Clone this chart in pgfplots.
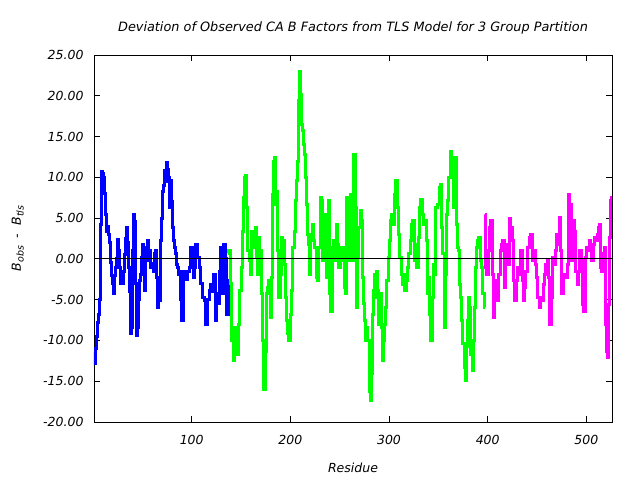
\documentclass[border=0pt]{standalone}
\usepackage{pgfplots}
\pgfplotsset{compat=1.18}
\usepackage{fontspec}
\setmainfont{DejaVu Sans}
\newcommand\lf{\fontsize{12.5bp}{14bp}\selectfont\itshape}
\newcommand\tf{\fontsize{12.85bp}{14bp}\selectfont\itshape}
\begin{document}
\begin{tikzpicture}
\useasboundingbox (-94bp,-58bp) rectangle (546bp,422bp);
\begin{axis}[
  scale only axis, width=518bp, height=367bp,
  at={(0,0)}, anchor=south west,
  xmin=1, xmax=526, ymin=-20, ymax=25,
  xtick={100,200,300,400,500}, ytick={-20,-15,...,25},
  tick align=inside, major tick length=6bp,
  /pgf/number format/assume math mode=true,
  yticklabel style={xshift=-7bp, /pgf/number format/.cd, fixed, fixed zerofill, precision=2},
  xticklabel style={yshift=-10bp, /pgf/number format/.cd, fixed, precision=0},
  tick label style={font=\lf},
  axis line style={line width=0.9pt},
  every tick/.style={black, line width=0.8pt},
  title={Deviation of Observed CA B Factors from TLS Model for 3 Group Partition},
  title style={font=\tf, at={(axis description cs:0.5,1)}, anchor=center, yshift=21bp},
  xlabel={Residue},
  xlabel style={font=\lf, at={(axis description cs:0.5,0)}, anchor=center, yshift=-46bp},
  ylabel={B\raisebox{-0.4ex}{\fontsize{9.5bp}{10bp}\selectfont obs}\ \ -\ \ B\raisebox{-0.4ex}{\fontsize{9.5bp}{10bp}\selectfont tls}},
  ylabel style={font=\lf, at={(axis description cs:-0.147,0.5)}, anchor=center},
  clip=true,
  const plot mark mid,
]
\addplot[color={rgb,255:red,0;green,0;blue,255}, line width=3bp, line join=miter] coordinates {
(1,-11.5) (2,-12.8) (3,-11) (4,-9.5) (5,-7.8) (6,-6.8) (7,-5) (8,4.2) (9,10.7) (10,10.5)
(11,10) (12,8) (13,5.5) (14,3.4) (15,4) (16,3) (17,2) (18,-0.5) (19,-2) (20,-3)
(21,-4.3) (22,-2) (23,-1) (24,0) (25,2.4) (26,1) (27,-1) (28,-3) (29,-1.5) (30,-3)
(31,-1.5) (32,0.5) (33,2.5) (34,3.8) (35,2) (36,-1) (37,-4) (38,-7) (39,-9.2) (40,-8.4)
(41,1) (42,5.5) (43,4.6) (44,-3) (45,-9.4) (46,-8.4) (47,-5) (48,-2.7) (49,-1.9) (50,0.2)
(51,1.8) (52,-1) (53,-3.9) (54,0.2) (55,1.4) (56,2.2) (57,-0.2) (58,1) (59,-1) (60,-0.6)
(61,-1) (62,-1.5) (63,0.6) (64,1) (65,-2.3) (66,-6) (67,-4.7) (68,-5.1) (69,2.2) (70,5)
(71,8.3) (72,9) (73,10.8) (74,9.5) (75,11.8) (76,11) (77,10) (78,6.3) (79,9.6) (80,7)
(81,3.8) (82,2.2) (83,1.4) (84,0.6) (85,-0.7) (86,-1) (87,-1.9) (88,-1.5) (89,-5) (91,-7.6)
(93,-1.5) (95,-2.5) (97,-1.5) (98,-1) (100,1.4) (101,1.4) (102,-2.3) (103,-1) (105,1.8) (107,0.2)
(108,-1) (110,-3) (112,-4.7) (113,-5.1) (115,-8) (117,-5) (119,-3.9) (120,-3.1) (122,-4) (123,-1.9)
(125,-7.6) (126,-4.3) (128,-5.5) (129,-1.5) (130,1.4) (131,-1.9) (132,-4.3) (133,1.8) (135,0) (136,-6.8) (138,-2.7)
};
\addplot[color={rgb,255:red,0;green,255;blue,0}, line width=3bp, line join=miter] coordinates {
(137,0.6) (138.6,1) (140.3,-3) (141.3,-10) (142.7,-12.5) (144,-8.4) (145.4,-9.2) (146.7,-11.7) (148,-8) (149.4,-3.9)
(150.8,-1) (151.5,3.4) (152.8,7.5) (154.2,10) (155.5,10.2) (156.5,6.3) (157.5,1) (158.9,-0.2) (159.9,-1.9) (161.3,3.4)
(162.6,2.2) (163.6,1.4) (165,3.8) (166.3,0.2) (167.7,-1.9) (168.7,2.6) (169.7,1) (171.1,-4.3) (172.4,-10) (173.8,-16)
(175.1,-11.3) (176.1,-4.3) (177.5,-3.5) (178.8,-2.7) (180.2,-7.2) (181.5,-2.3) (182.6,7.9) (183.6,12) (184.9,12.4) (185.9,6.7)
(186.9,8.3) (187.6,1) (189,-4.7) (190.3,-1.9) (191.7,2.6) (193,2.2) (194.4,-0.7) (195.4,-4.7) (196.4,-7.6) (197.8,-9.2)
(199.1,-10) (200.5,-6.8) (201.8,-3.9) (203.2,1.4) (204.5,3.4) (205.5,7.1) (206.6,9.6) (207.6,12) (208.6,19.4) (209.6,23)
(210.6,20.2) (211.6,16.5) (212.6,15.7) (214,14) (215,12.8) (216,10) (217,6.7) (218,3) (219.1,1.8) (220.1,-1.9)
(221.4,3) (222.8,4.2) (224.1,2.2) (225.5,1.4) (226.8,-2.3) (228.2,-2.7) (229.5,1.4) (230.9,7.5) (232.2,7.1) (233.6,-0.2)
(235,5.5) (236.3,5) (237.7,-2.3) (239,7.1) (240.4,-4.3) (241.7,-6.4) (243.1,1.4) (244.4,2.2) (245.8,-0.2) (247.1,4.2)
(248.5,1.8) (249.8,-1) (251.2,1.4) (252.5,-0.2) (253.9,1.4) (255.2,-3.5) (256.6,-4.3) (257.6,7.5) (259,7.1) (260.3,-0.2)
(261.7,7.9) (263,-0.2) (264,8.3) (265,12.8) (266.4,6.3) (267.4,-6) (268.8,0.2) (270.1,3.8) (271.5,5.9) (272.8,4.7)
(273.8,-2.3) (274.8,-5.5) (275.9,-7.6) (276.9,-10) (277.9,-8.4) (279.2,-10) (280.6,-16.2) (281.6,-17.4) (282.6,-14.1) (283.6,-6.8)
(284.6,-3.9) (285.7,-1.9) (286.7,-4.7) (287.7,-1.5) (288.7,-3.9) (290,-8) (291.4,-4.3) (292.4,-8.4) (293.4,-12.5) (294.8,-10)
(295.8,-8) (297.1,-6) (298.5,-2.7) (299.9,0.2) (300.9,2.2) (302.2,4.7) (303.6,5.5) (304.9,4.2) (306.3,7.9) (307.6,9.6)
(309,6.3) (310.3,3) (311.7,0.2) (312.7,-1.9) (314,-3.1) (315.4,-1.9) (316.8,-3.9) (318.1,-2.7) (319.5,-1) (320.8,0.6)
(322.2,2.2) (323.5,4.2) (324.9,4.7) (326.2,-0.2) (327.6,1.8) (328.9,-1) (330.3,2.6) (331.6,6.3) (333,7.3) (334.3,5.5)
(335.7,4.2) (337,4.7) (338.4,2.2) (339.4,-4.3) (340.8,-2.3) (341.8,-6.8) (343.1,-10) (344.5,-4.7) (345.5,-0.7) (346.8,-1.9)
(348.2,6.3) (349.9,6.7) (351.6,8.7) (352.6,9.1) (354,3.8) (355.3,0.6) (356.6,-8.4) (358,-1.9) (359,5.5) (360,7.1)
(361.4,10) (362.7,13.2) (364.1,10.8) (365.1,12.4) (366.1,6.3) (367.5,12.4) (368.5,4.2) (369.5,1.4) (370.8,1) (371.9,-3.1)
(372.9,-4.7) (374.2,-7.6) (375.6,-10.4) (376.9,-13.3) (377.9,-14.9) (379,-10.8) (380.3,-7.6) (381.3,-4.7) (382.3,-6) (383.7,-11.7)
(385,-13.7) (386,-10) (387.1,-6) (388.1,-1) (389.1,1.4) (390.5,2.2) (391.8,2.6) (393.2,-0.2) (394.5,-1) (395.9,-4.3) (397.2,-6)
};
\addplot[color={rgb,255:red,255;green,0;blue,255}, line width=3bp, line join=miter] coordinates {
(397.2,5.5) (398.6,-1) (399.9,-1.9) (401.3,1) (402.6,3.8) (404,4.7) (405.3,-1.9) (406.7,-7.2) (408,-5.1) (409.4,-2.7)
(410.7,-5.1) (412.1,-1.9) (413.4,1) (414.8,1.8) (416.1,2.2) (417.5,-3.5) (418.8,1) (420.2,1.8) (421.5,-0.7) (422.9,4.9)
(424.3,3.8) (425.6,2.2) (427,-2.7) (428.3,-5.1) (429.7,-2.7) (431,-1) (432.4,-1.9) (434.4,1) (435.4,-2.7) (436.8,-5.1)
(438.1,-3.5) (439.5,-1.5) (441.2,1.4) (442.8,2.6) (444.5,3) (446.2,-0.2) (447.6,1) (448.9,-0.7) (450.3,-2.3) (451.6,-4.7)
(453,-6) (454.3,-4.7) (455.7,-5.1) (457,-3.1) (458.4,-1.9) (459.7,-0.7) (461.1,-0.2) (462.5,-2.3) (463.8,-8) (465.2,-4.7)
(466.5,0.2) (467.9,-0.7) (469.2,1) (470.6,3) (471.9,1.8) (473.3,5.1) (474.6,1) (476,-4.3) (477.3,-2.3) (478.7,-1.9)
(480,-2.3) (481.4,-0.7) (482.7,7.9) (484.1,6.7) (485.4,-0.2) (486.8,2.6) (487.8,4.7) (488.8,3.4) (490.2,-1.5) (491.5,-3.1)
(492.9,-1.5) (494.2,1) (495.6,-0.2) (496.9,-5.6) (498.3,-6.4) (499.6,0.2) (501,1.4) (502.3,1) (503.7,2.2) (505,1)
(506.4,-0.2) (507.8,1.8) (509.1,2.6) (510.5,2.2) (511.8,3) (513.2,3.8) (514.2,4.2) (515.2,-1.1) (516.5,-1.5) (517.9,0.6)
(518.9,1.4) (519.9,-8) (520.9,-11.3) (521.9,-12.1) (523,-5.6) (524,2.6) (525,7.1) (526,7.5)
};
\addplot[black, line width=0.9pt, sharp plot] coordinates {(1,0) (526,0)};
\end{axis}
\end{tikzpicture}
\end{document}
